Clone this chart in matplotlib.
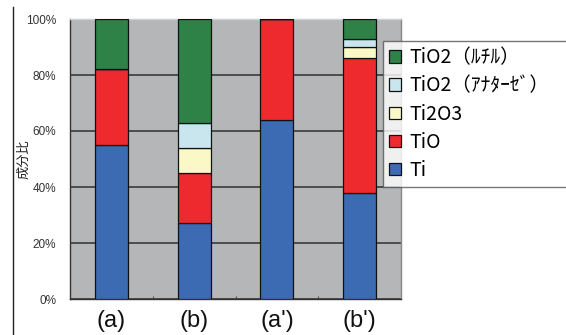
import numpy as np
import matplotlib.pyplot as plt
from matplotlib.lines import Line2D

plt.rcParams['font.family'] = ['Liberation Sans', 'Noto Sans CJK JP', 'DejaVu Sans']

samples = ["(a)", "(b)", "(a')", "(b')"]
ti = [55, 27, 64, 38]
tio = [27, 18, 36, 48]
ti2o3 = [0, 9, 0, 4]
anatase = [0, 9, 0, 3]
rutile = [18, 37, 0, 7]

series = [
    ("Ti", ti, "#3d6bb3"),
    ("TiO", tio, "#ee2a2f"),
    ("Ti2O3", ti2o3, "#fbf8c8"),
    ("TiO2\uff08\uff71\uff85\uff80\uff70\uff7e\uff9e\uff09", anatase, "#c9e6ee"),
    ("TiO2\uff08\uff99\uff81\uff99\uff09", rutile, "#2e8247"),
]

fig = plt.figure(figsize=(5.66, 3.35), dpi=100)
ax = fig.add_axes([70/566, 36/335, 331/566, 280/335])
ax.set_facecolor("#b5b6b8")

x = np.arange(len(samples))
bottom = np.zeros(len(samples))
handles = []
for name, vals, col in series:
    vals = np.array(vals, dtype=float)
    b = ax.bar(x, vals, 0.4, bottom=bottom, color=col, edgecolor="#111111",
               linewidth=0.9, zorder=3, label=name)
    handles.append(b)
    bottom += vals

ax.set_xlim(-0.5, 3.5)
ax.set_ylim(0, 100)
ax.set_yticks(np.arange(0, 101, 20))
ax.set_yticklabels([f"{v}%" for v in range(0, 101, 20)], fontsize=8.5, color="#333333")
ax.yaxis.grid(True, color="#4d4d4d", linewidth=1.4, zorder=1)
ax.set_axisbelow(True)
ax.tick_params(axis="y", length=0, pad=10)
ax.set_xticks(x)
ax.set_xticklabels(samples, fontsize=17, color="#111111")
ax.tick_params(axis="x", length=0, pad=8)
ax.set_xticks([0.5, 1.5, 2.5], minor=True)
ax.tick_params(axis="x", which="minor", direction="in", length=2, color="#333333")

ax.spines["left"].set_color("#333333")
ax.spines["bottom"].set_color("#333333")
ax.spines["top"].set_color("#d0d0d0")
ax.spines["right"].set_color("#888888")
for s in ax.spines.values():
    s.set_linewidth(1.0)

ax.set_ylabel("成分比", fontsize=9.5, family=['Noto Sans CJK JP'], color="#222222")
ax.yaxis.set_label_coords(-40/331, 0.5)

leg = fig.legend(handles[::-1], [s[0] for s in series][::-1],
                 loc="upper left", mode="expand",
                 bbox_to_anchor=(383/566, 0, 190/566, 1 - 41/335),
                 prop={'family': ['Noto Sans CJK JP'], 'size': 14},
                 frameon=True, fancybox=False, edgecolor="#555555",
                 handlelength=0.6, handleheight=0.6, handletextpad=0.45,
                 labelspacing=0.37, borderpad=0.32, borderaxespad=0)
leg.get_frame().set_linewidth(1.0)

fig.add_artist(Line2D([13/566, 13/566], [0, 1 - 7/335], color="#222222", linewidth=1.0))

fig.savefig("out.png", dpi=100)
